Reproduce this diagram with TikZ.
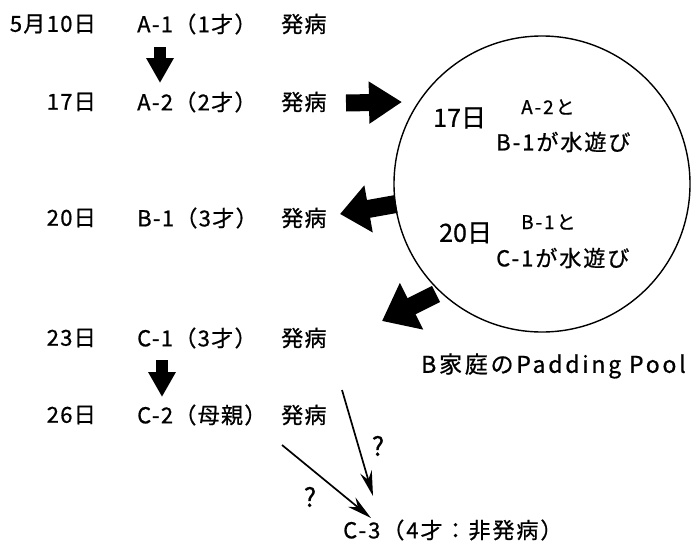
\documentclass[tikz,border=0pt]{standalone}
\usepackage{fontspec}
\setmainfont{Noto Sans CJK JP}[FakeBold=0.8]
\usetikzlibrary{arrows.meta}
\tikzset{
  lbl/.style={inner sep=0pt, font=\fontsize{22}{24}\selectfont\addfontfeature{LetterSpace=6}},
  inlbl/.style={inner sep=0pt, font=\fontsize{22}{24}\selectfont\addfontfeature{LetterSpace=9}},
  bigdate/.style={inner sep=0pt, font=\fontsize{25}{27}\selectfont},
  smalllbl/.style={inner sep=0pt, font=\fontsize{19}{21}\selectfont\addfontfeature{LetterSpace=10}},
  qlbl/.style={inner sep=0pt, font=\fontsize{26}{28}\selectfont},
  downarrow/.style={line width=12pt, -{Triangle[width=26pt,length=25pt]}},
  thinarrow/.style={line width=1.7pt, -{Stealth[length=25pt,width=12pt]}},
  pool/.style={circle, draw, line width=1.4pt, minimum size=296pt, inner sep=0pt}
}
\begin{document}
\begin{tikzpicture}[x=1pt,y=-1pt]
\useasboundingbox (0,0) rectangle (698,546);
% rows
\node[lbl, anchor=east] (d1) at (96,24) {5月10日};
\node[lbl, anchor=west] (a1) at (137,24) {A-1（1才）};
\node[lbl, anchor=west] (s1) at (281,24) {発病};
\node[lbl, anchor=east] (d2) at (96,102) {17日};
\node[lbl, anchor=west] (a2) at (137,102) {A-2（2才）};
\node[lbl, anchor=west] (s2) at (281,102) {発病};
\node[lbl, anchor=east] (d3) at (96,218) {20日};
\node[lbl, anchor=west] (b1) at (137,218) {B-1（3才）};
\node[lbl, anchor=west] (s3) at (281,218) {発病};
\node[lbl, anchor=east] (d4) at (96,338) {23日};
\node[lbl, anchor=west] (c1) at (137,338) {C-1（3才）};
\node[lbl, anchor=west] (s4) at (281,338) {発病};
\node[lbl, anchor=east] (d5) at (96,415) {26日};
\node[lbl, anchor=west] (c2) at (137,415) {C-2（母親）};
\node[lbl, anchor=west] (s5) at (281,415) {発病};
\node[inlbl, anchor=west] (c3) at (343,530) {C-3（4才：非発病）};
% pool circle
\node[pool] (pool) at (542,184) {};
\node[bigdate, anchor=west] (p17) at (433,118) {17日};
\node[smalllbl, anchor=west] (pa) at (521,107) {A-2と};
\node[inlbl, anchor=west] (pb) at (496,142) {B-1が水遊び};
\node[bigdate, anchor=west] (p20) at (439,233) {20日};
\node[smalllbl, anchor=west] (pc) at (521,222) {B-1と};
\node[inlbl, anchor=west] (pd) at (496,258) {C-1が水遊び};
\node[inner sep=0pt, anchor=west, font=\fontsize{23}{25}\selectfont\addfontfeature{LetterSpace=12}] (ptitle) at (421,366) {B家庭のPadding Pool};
% arrow end points
\coordinate (da1s) at (160,47);
\coordinate (da1e) at (160,83);
\coordinate (da2s) at (162,360);
\coordinate (da2e) at (162,397);
\coordinate (r1s) at (346,103);
\coordinate (r1e) at (402,102);
\coordinate (r2s) at (396,204);
\coordinate (r2e) at (340,214);
\coordinate (r3s) at (436,294);
\coordinate (r3e) at (382,321);
\coordinate (t1s) at (342,390);
\coordinate (t1e) at (373,496);
\coordinate (t2s) at (282,445);
\coordinate (t2e) at (371,518);
% arrows
\draw[downarrow] (da1s) -- (da1e);
\draw[downarrow] (da2s) -- (da2e);
\draw[line width=17pt, -{Triangle[width=40pt,length=33pt]}] (r1s) -- (r1e);
\draw[line width=18pt, -{Triangle[width=46pt,length=29pt]}] (r2s) -- (r2e);
\draw[line width=18pt, -{Triangle[width=50pt,length=33pt]}] (r3s) -- (r3e);
\draw[thinarrow] (t1s) -- (t1e);
\draw[thinarrow] (t2s) -- (t2e);
\node[qlbl] (q1) at (378,446) {?};
\node[qlbl] (q2) at (310,497) {?};
\end{tikzpicture}
\end{document}
